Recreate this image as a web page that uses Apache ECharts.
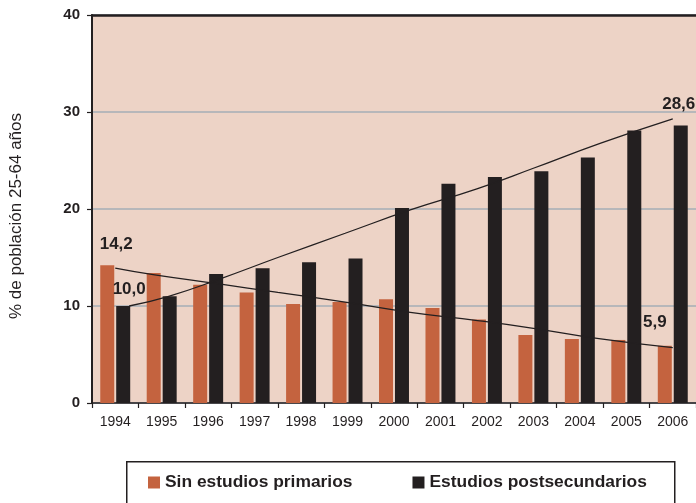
<!DOCTYPE html>
<html>
<head>
<meta charset="utf-8">
<script src="https://cdn.jsdelivr.net/npm/echarts@6/dist/echarts.min.js"></script>
<style>
html,body{margin:0;padding:0;background:#fff;}
#chart{width:696px;height:503px;}
</style>
</head>
<body>
<div id="chart"></div>
<script>
// ---- data ----
const years = ['1994','1995','1996','1997','1998','1999','2000','2001','2002','2003','2004','2005','2006'];
const sinEstudios = [14.2, 13.4, 12.2, 11.4, 10.2, 10.4, 10.7, 9.8, 8.6, 7.0, 6.6, 6.5, 5.9];
const postsecundarios = [10.0, 11.0, 13.3, 13.9, 14.5, 14.9, 20.1, 22.6, 23.3, 23.9, 25.3, 28.1, 28.6];
const labelSin = ['14,2', '5,9'];
const labelPost = ['10,0', '28,6'];
// trend lines (year position, value)
const trendUpYears = [1994.3, 1995.15, 1996.2, 1997.5, 1998.95, 2000.35, 2001.8, 2003.0, 2004.45, 2006.0];
const trendUpVals  = [10.0, 11.0, 12.7, 15.0, 17.5, 19.9, 22.1, 24.2, 26.8, 29.3];
const trendDownYears = [1994.0, 1994.85, 1996.2, 1997.5, 1998.95, 2000.35, 2001.8, 2003.0, 2004.45, 2006.0];
const trendDownVals  = [13.9, 13.2, 12.3, 11.4, 10.4, 9.35, 8.5, 7.7, 6.6, 5.7];
const yTicks = [0, 10, 20, 30, 40];

// ---- styles ----
const FONT = '"Liberation Sans", Arial, Helvetica, sans-serif';
const DARK = '#231F20';
const ORANGE = '#C4633F';
const BG = '#EDD3C6';

const lblStyle = {show: true, position: 'top', fontFamily: FONT, fontWeight: 'bold', fontSize: 17, color: DARK};

const sinData = sinEstudios.map((v, i) => {
  if (i === 0) return {value: v, label: Object.assign({}, lblStyle, {formatter: labelSin[0], offset: [9, -7]})};
  if (i === sinEstudios.length - 1) return {value: v, label: Object.assign({}, lblStyle, {formatter: labelSin[1], offset: [-10, -10]})};
  return v;
});
const postData = postsecundarios.map((v, i) => {
  if (i === 0) return {value: v, label: Object.assign({}, lblStyle, {formatter: labelPost[0], offset: [6, -3]})};
  if (i === postsecundarios.length - 1) return {value: v, label: Object.assign({}, lblStyle, {formatter: labelPost[1], offset: [-2, -8]})};
  return v;
});

const chart = echarts.init(document.getElementById('chart'), null, {renderer: 'canvas'});
chart.setOption({
  animation: false,
  backgroundColor: '#fff',
  textStyle: {fontFamily: FONT},
  grid: {
    left: 92, top: 15, width: 607, height: 388,
    show: true, backgroundColor: BG, borderColor: 'transparent', borderWidth: 0,
    containLabel: false
  },
  legend: {
    left: 148, top: 474, padding: 0,
    itemWidth: 12, itemHeight: 12, itemGap: 60, icon: 'rect',
    textStyle: {fontFamily: FONT, fontWeight: 'bold', fontSize: 17.4, color: DARK},
    data: ['Sin estudios primarios', 'Estudios postsecundarios']
  },
  graphic: [
    {type: 'rect', left: 126, top: 461, z: -1,
      shape: {width: 548, height: 60},
      style: {fill: '#fff', stroke: DARK, lineWidth: 1.5}},
    {type: 'text', x: 16, y: 216, rotation: Math.PI / 2,
      style: {text: '% de población 25-64 años', font: '17px ' + FONT, fill: DARK, align: 'center', verticalAlign: 'middle'}}
  ],
  xAxis: [
    {
      type: 'category', data: years, boundaryGap: true,
      axisLine: {lineStyle: {color: DARK, width: 1.5}},
      axisTick: {show: true, length: 5, lineStyle: {color: DARK, width: 1.2}},
      axisLabel: {fontFamily: FONT, fontSize: 14, color: DARK, margin: 12, interval: 0},
      splitLine: {show: false}
    },
    {
      type: 'value', min: 1993.5, max: 2006.5, show: false, gridIndex: 0, position: 'bottom'
    },
    {
      type: 'category', data: years, position: 'top', gridIndex: 0,
      axisLine: {show: true, lineStyle: {color: DARK, width: 2.5}},
      axisTick: {show: false}, axisLabel: {show: false}, splitLine: {show: false}
    }
  ],
  yAxis: {
    type: 'value', min: yTicks[0], max: yTicks[yTicks.length - 1], interval: 10,
    axisLine: {show: true, lineStyle: {color: DARK, width: 2}},
    axisTick: {show: true, length: 5, lineStyle: {color: DARK, width: 1.2}},
    axisLabel: {fontFamily: FONT, fontSize: 15, fontWeight: 'bold', color: DARK, margin: 12},
    splitLine: {show: true, lineStyle: {color: '#A4AEB6', width: 1.5}}
  },
  series: [
    {
      name: 'Sin estudios primarios', type: 'bar', data: sinData,
      barWidth: 14, barGap: '14%',
      itemStyle: {color: ORANGE}
    },
    {
      name: 'Estudios postsecundarios', type: 'bar', data: postData,
      barWidth: 14, barGap: '14%',
      itemStyle: {color: DARK}
    },
    {
      name: 'trendUp', type: 'line', xAxisIndex: 1, smooth: true, symbol: 'none',
      data: trendUpYears.map((x, i) => [x, trendUpVals[i]]),
      lineStyle: {color: DARK, width: 1.3}, z: 5, silent: true
    },
    {
      name: 'trendDown', type: 'line', xAxisIndex: 1, smooth: true, symbol: 'none',
      data: trendDownYears.map((x, i) => [x, trendDownVals[i]]),
      lineStyle: {color: DARK, width: 1.3}, z: 5, silent: true
    }
  ]
});
</script>
</body>
</html>
